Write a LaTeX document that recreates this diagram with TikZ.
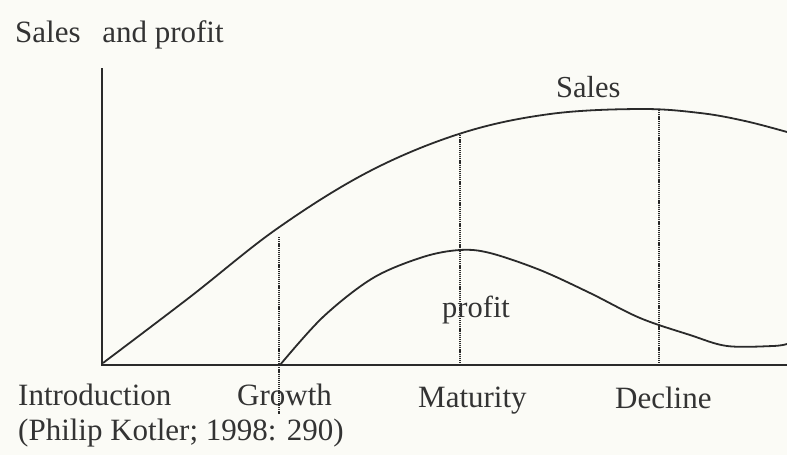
\documentclass[tikz,border=0pt]{standalone}
\usepackage{fontspec}
\setmainfont{Liberation Serif}
\definecolor{bgc}{HTML}{FBFBF6}
\definecolor{inkc}{HTML}{2A2A2A}
\definecolor{txtc}{HTML}{333333}
\begin{document}
\begin{tikzpicture}[x=1pt,y=-1pt,
  lbl/.style={inner sep=0pt,anchor=base west,text=txtc,font=\fontsize{31}{36}\selectfont},
  axisline/.style={draw=inkc,line width=1.6pt},
  curveline/.style={draw=inkc,line width=1.8pt,line join=round},
  guide/.style={draw=inkc,line width=1.1pt,dash pattern=on 1.2pt off 0.9pt}]
\fill[bgc] (0,0) rectangle (787,455);
\useasboundingbox (0,0) rectangle (787,455);
% axes
\coordinate (ytop) at (102,68);
\coordinate (O) at (102,365);
\coordinate (xend) at (787,365);
\draw[axisline] (ytop) -- (O) -- (xend);
% guide lines
\coordinate (gtop) at (279,237);
\coordinate (gbot) at (279,414);
\coordinate (mtop) at (460,133);
\coordinate (mbot) at (460,365);
\coordinate (dtop) at (659,110);
\coordinate (dbot) at (659,365);
\draw[guide] (gtop) -- (gbot);
\draw[guide] (mtop) -- (mbot);
\draw[guide] (dtop) -- (dbot);
% curves
\draw[curveline] plot[smooth,tension=0.6] coordinates {(103,363) (190,297) (278,228) (370,171) (462,133) (550,114) (640,109) (700,113) (745,121) (787,132)};
\draw[curveline] plot[smooth,tension=0.55] coordinates {(280,365) (323,317) (373,278) (423,257) (460,250) (490,253) (540,270) (590,293) (640,318) (690,335) (727,346) (773,346) (787,344)};
% labels
\node[lbl] (title) at (15,42) {Sales\hspace{0.45em} and profit};
\node[lbl,font=\fontsize{30.5}{36}\selectfont] (saleslbl) at (556,97) {Sales};
\node[lbl,font=\fontsize{30.5}{36}\selectfont] (profitlbl) at (442,317) {profit};
\node[lbl] (intro) at (18,405) {Introduction};
\node[lbl] (growth) at (237,405) {Growth};
\node[lbl] (maturity) at (418,407) {Maturity};
\node[lbl] (decline) at (615,408) {Decline};
\node[lbl] (cite) at (18,440) {(Philip Kotler; 1998: 290)};
\end{tikzpicture}
\end{document}
